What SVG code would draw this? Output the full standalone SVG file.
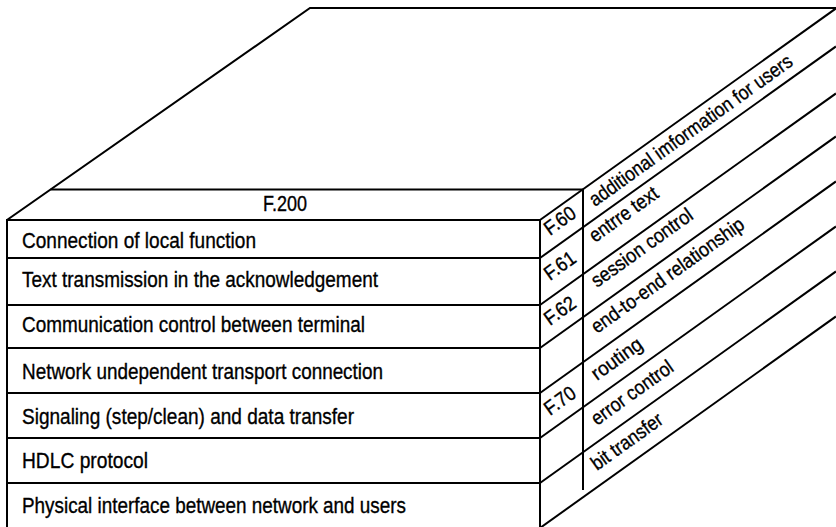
<svg xmlns="http://www.w3.org/2000/svg" width="836" height="527" viewBox="0 0 836 527">
<style>
.ln{fill:none;stroke:#000;stroke-width:2;stroke-linejoin:miter}
.row rect{fill:#fff;stroke:#000;stroke-width:2}
.t{font-family:"Liberation Sans Narrow","Liberation Sans",Arial,sans-serif;font-size:22px;fill:#000;stroke:#000;stroke-width:0.35}
.s{font-family:"Liberation Sans Narrow","Liberation Sans",Arial,sans-serif;font-size:20px;fill:#000;stroke:#000;stroke-width:0.35}
</style>
<rect width="836" height="527" fill="#fff"/>
<g id="frame">
<path class="ln" d="M836,8 L310,8 L7,220 L7,528"/>
<path class="ln" d="M50.6,189.5 L583,189.5"/>
<path class="ln" d="M540,220 L540,528"/>
<path class="ln" d="M583,189 L583,490"/>
</g>
<g id="side-lines">
<path class="ln" d="M540,220 L836,8.4"/>
<path class="ln" d="M540,258 L836,46.4"/>
<path class="ln" d="M540,305 L836,93.4"/>
<path class="ln" d="M540,348 L836,136.4"/>
<path class="ln" d="M540,393 L836,181.4"/>
<path class="ln" d="M540,438 L836,226.4"/>
<path class="ln" d="M540,483 L836,271.4"/>
<path class="ln" d="M540,528 L836,316.4"/>
</g>
<g id="f200"><text class="t" x="263" y="211" textLength="44" lengthAdjust="spacingAndGlyphs">F.200</text></g>
<g id="row1" class="row"><rect x="7" y="220" width="533" height="38"/><text class="t" x="22" y="248" textLength="234" lengthAdjust="spacingAndGlyphs">Connection of local function</text></g>
<g id="row2" class="row"><rect x="7" y="258" width="533" height="47"/><text class="t" x="22" y="287" textLength="356" lengthAdjust="spacingAndGlyphs">Text transmission in the acknowledgement</text></g>
<g id="row3" class="row"><rect x="7" y="305" width="533" height="43"/><text class="t" x="22" y="332" textLength="343" lengthAdjust="spacingAndGlyphs">Communication control between terminal</text></g>
<g id="row4" class="row"><rect x="7" y="348" width="533" height="45"/><text class="t" x="22" y="379" textLength="361" lengthAdjust="spacingAndGlyphs">Network undependent transport connection</text></g>
<g id="row5" class="row"><rect x="7" y="393" width="533" height="45"/><text class="t" x="22" y="424" textLength="332" lengthAdjust="spacingAndGlyphs">Signaling (step/clean) and data transfer</text></g>
<g id="row6" class="row"><rect x="7" y="438" width="533" height="45"/><text class="t" x="22" y="468" textLength="126" lengthAdjust="spacingAndGlyphs">HDLC protocol</text></g>
<g id="row7" class="row"><rect x="7" y="483" width="533" height="46"/><text class="t" x="22" y="513" textLength="384" lengthAdjust="spacingAndGlyphs">Physical interface between network and users</text></g>
<g id="f60"><text class="s" x="550" y="236" transform="rotate(-35.6 550 236)" textLength="34" lengthAdjust="spacingAndGlyphs">F.60</text></g>
<g id="f61"><text class="s" x="550" y="281" transform="rotate(-35.6 550 281)" textLength="34" lengthAdjust="spacingAndGlyphs">F.61</text></g>
<g id="f62"><text class="s" x="550" y="326" transform="rotate(-35.6 550 326)" textLength="34" lengthAdjust="spacingAndGlyphs">F.62</text></g>
<g id="f70"><text class="s" x="550" y="416" transform="rotate(-35.6 550 416)" textLength="34" lengthAdjust="spacingAndGlyphs">F.70</text></g>
<g id="lab1"><text class="s" x="595" y="207" transform="rotate(-35.6 595 207)" textLength="245" lengthAdjust="spacingAndGlyphs">additional imformation for users</text></g>
<g id="lab2"><text class="s" x="595" y="243" transform="rotate(-35.6 595 243)" textLength="80" lengthAdjust="spacingAndGlyphs">entrre text</text></g>
<g id="lab3"><text class="s" x="597" y="288" transform="rotate(-35.6 597 288)" textLength="120" lengthAdjust="spacingAndGlyphs">session control</text></g>
<g id="lab4"><text class="s" x="597" y="334" transform="rotate(-35.6 597 334)" textLength="183" lengthAdjust="spacingAndGlyphs">end-to-end relationship</text></g>
<g id="lab5"><text class="s" x="597" y="381" transform="rotate(-35.6 597 381)" textLength="58" lengthAdjust="spacingAndGlyphs">routing</text></g>
<g id="lab6"><text class="s" x="597" y="426" transform="rotate(-35.6 597 426)" textLength="96" lengthAdjust="spacingAndGlyphs">error control</text></g>
<g id="lab7"><text class="s" x="597" y="471" transform="rotate(-35.6 597 471)" textLength="83" lengthAdjust="spacingAndGlyphs">bit transfer</text></g>
</svg>
